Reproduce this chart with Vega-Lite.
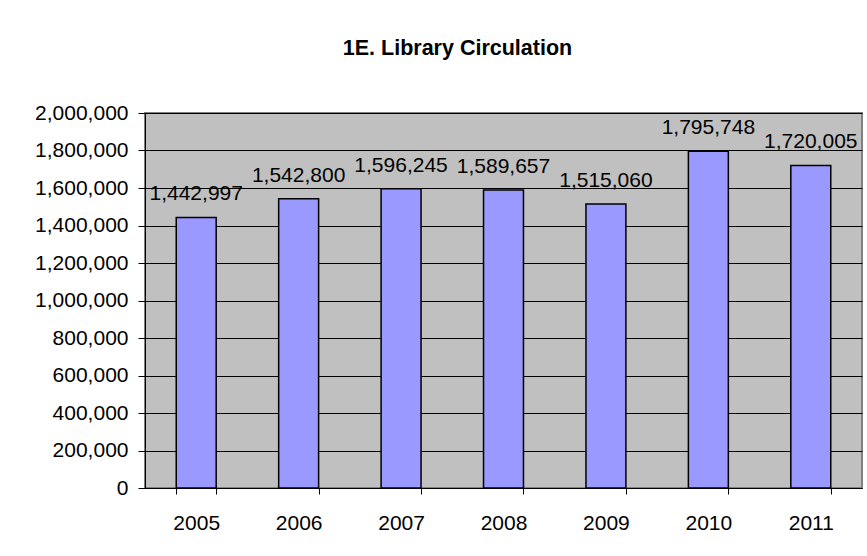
{
  "$schema": "https://vega.github.io/schema/vega-lite/v6.json",
  "width": 717,
  "height": 375,
  "autosize": {"type": "none"},
  "padding": {"left": 145, "top": 113, "right": 5, "bottom": 68},
  "background": "white",
  "title": {
    "text": "1E. Library Circulation",
    "font": "Liberation Sans",
    "fontSize": 21.5,
    "fontWeight": "bold",
    "color": "black",
    "anchor": "middle",
    "dx": -46,
    "offset": 43
  },
  "config": {
    "font": "Liberation Sans",
    "view": {"fill": "#C0C0C0", "stroke": "#808080", "strokeWidth": 2}
  },
  "data": {
    "values": [
      {"year": "2005", "circulation": 1442997},
      {"year": "2006", "circulation": 1542800},
      {"year": "2007", "circulation": 1596245},
      {"year": "2008", "circulation": 1589657},
      {"year": "2009", "circulation": 1515060},
      {"year": "2010", "circulation": 1795748},
      {"year": "2011", "circulation": 1720005}
    ]
  },
  "encoding": {
    "x": {
      "field": "year",
      "type": "nominal",
      "sort": null,
      "scale": {"paddingInner": 0.61, "paddingOuter": 0.305},
      "axis": {
        "title": null,
        "labelAngle": 0,
        "labelFont": "Liberation Sans",
        "labelFontSize": 21,
        "labelColor": "black",
        "tickBand": "extent",
        "tickSize": 6,
        "tickColor": "black",
        "domainColor": "black",
        "domainWidth": 1,
        "labelPadding": 18,
        "grid": false
      }
    },
    "y": {
      "field": "circulation",
      "type": "quantitative",
      "scale": {"domain": [0, 2000000], "nice": false},
      "axis": {
        "title": null,
        "values": [0, 200000, 400000, 600000, 800000, 1000000, 1200000, 1400000, 1600000, 1800000, 2000000],
        "format": ",.0f",
        "labelFont": "Liberation Sans",
        "labelFontSize": 21,
        "labelColor": "black",
        "tickSize": 7,
        "tickColor": "black",
        "domainColor": "black",
        "domainWidth": 1,
        "labelPadding": 10,
        "grid": true,
        "gridColor": "black",
        "gridWidth": 1,
        "gridOpacity": 1
      }
    }
  },
  "layer": [
    {
      "mark": {"type": "bar", "color": "#9999FF", "stroke": "black", "strokeWidth": 1.5}
    },
    {
      "mark": {"type": "text", "baseline": "alphabetic", "align": "center", "dy": -17, "fontSize": 21, "font": "Liberation Sans", "color": "black"},
      "encoding": {"text": {"field": "circulation", "type": "quantitative", "format": ",.0f"}}
    }
  ]
}
